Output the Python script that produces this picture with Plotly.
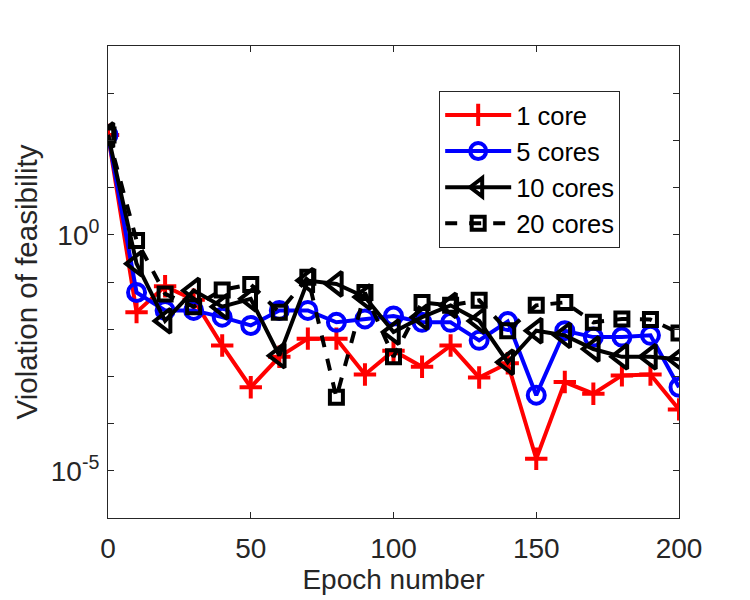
import plotly.graph_objects as go

epochs = [0, 10, 20, 30, 40, 50, 60, 70, 80, 90, 100, 110, 120, 130, 140, 150, 160, 170, 180, 190, 200]
core1 = [1.3e2, 2.3e-2, 8.1e-2, 4.2e-2, 4.5e-3, 5.9e-4, 2.6e-3, 6.3e-3, 6.3e-3, 1.1e-3, 3.5e-3,
         1.6e-3, 4.5e-3, 9.5e-4, 1.9e-3, 1.8e-5, 7.6e-4, 4.3e-4, 1.05e-3, 1.1e-3, 2.0e-4]
core5 = [1.3e2, 6.0e-2, 2.5e-2, 2.5e-2, 1.8e-2, 1.2e-2, 2.5e-2, 2.5e-2, 1.4e-2, 1.65e-2, 1.9e-2,
         1.4e-2, 1.4e-2, 5.8e-3, 1.45e-2, 4.0e-4, 9.3e-3, 6.8e-3, 6.8e-3, 7.4e-3, 5.9e-4]
core10 = [1.3e2, 0.245, 1.5e-2, 6.6e-2, 3.0e-2, 4.4e-2, 2.75e-3, 0.107, 9.1e-2, 4.8e-2, 8.7e-3,
          1.8e-2, 3.2e-2, 1.5e-2, 2.0e-3, 9.3e-3, 7.4e-3, 3.8e-3, 2.6e-3, 2.6e-3, 2.3e-3]
core20 = [1.3e2, 0.76, 5.6e-2, 3.0e-2, 6.8e-2, 8.9e-2, 2.3e-2, 0.126, 3.6e-4, 6.0e-2, 2.6e-3,
          3.7e-2, 3.2e-2, 4.1e-2, 9.3e-3, 3.2e-2, 3.7e-2, 1.4e-2, 1.65e-2, 1.6e-2, 8.3e-3]

series_names = ["1 core", "5 cores", "10 cores", "20 cores"]
x_ticks = [0, 50, 100, 150, 200]
y_tickvals = [1e-6, 1e-5, 1e-4, 1e-3, 1e-2, 1e-1, 1e0, 1e1, 1e2, 1e3, 1e4]
y_ticktext = ["", "10<sup>-5</sup>", "", "", "", "", "10<sup>0</sup>", "", "", "", ""]

FONT = "Liberation Sans, Arial, Helvetica, sans-serif"
AX = "#262626"
LW = 4

fig = go.Figure()
fig.add_trace(go.Scatter(x=epochs, y=core1, name=series_names[0], mode="lines+markers",
                         line=dict(color="#ff0000", width=LW),
                         marker=dict(symbol="cross-thin-open", size=16, color="#ff0000",
                                     line=dict(color="#ff0000", width=LW))))
fig.add_trace(go.Scatter(x=epochs, y=core5, name=series_names[1], mode="lines+markers",
                         line=dict(color="#0000ff", width=LW),
                         marker=dict(symbol="circle-open", size=17, color="#0000ff",
                                     line=dict(color="#0000ff", width=LW))))
fig.add_trace(go.Scatter(x=epochs, y=core10, name=series_names[2], mode="lines+markers",
                         line=dict(color="#000000", width=LW),
                         marker=dict(symbol="triangle-left-open", size=21, color="#000000",
                                     line=dict(color="#000000", width=LW))))
fig.add_trace(go.Scatter(x=epochs, y=core20, name=series_names[3], mode="lines+markers",
                         line=dict(color="#000000", width=LW, dash="dash"),
                         marker=dict(symbol="square-open", size=13, color="#000000",
                                     line=dict(color="#000000", width=LW))))

fig.update_layout(
    width=750, height=600,
    margin=dict(l=108, r=71, t=46, b=82),
    paper_bgcolor="white", plot_bgcolor="white",
    font=dict(family=FONT, size=25, color=AX),
    showlegend=True,
    legend=dict(x=0.580, y=0.905, xanchor="left", yanchor="top",
                bgcolor="white", bordercolor=AX, borderwidth=1,
                font=dict(family=FONT, size=25.5, color="#000000"),
                itemwidth=66, tracegroupgap=0),
    xaxis=dict(range=[0, 200], tickvals=x_ticks, ticks="inside", ticklen=6,
               tickcolor=AX, showline=True, linecolor=AX, linewidth=1, mirror="ticks",
               showgrid=False, zeroline=False, ticklabelstandoff=5,
               title=dict(text="Epoch number", font=dict(size=28), standoff=3),
               tickfont=dict(size=28)),
    yaxis=dict(type="log", range=[-6, 4], tickvals=y_tickvals, ticktext=y_ticktext,
               ticks="inside", ticklen=6, tickcolor=AX, showline=True, linecolor=AX,
               linewidth=1, mirror="ticks", showgrid=False, zeroline=False,
               ticklabelstandoff=2,
               title=dict(text="Violation of feasibility", font=dict(size=29.5), standoff=4),
               tickfont=dict(size=28)),
)

fig.write_html("out.html")
